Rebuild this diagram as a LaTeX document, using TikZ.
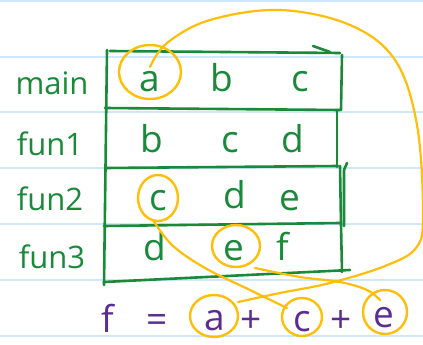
\documentclass[tikz,border=0pt]{standalone}
\usepackage{fontspec}
\setmainfont{Open Sans}
\definecolor{ink}{RGB}{26,137,58}
\definecolor{hl}{RGB}{255,190,10}
\definecolor{pur}{RGB}{92,45,145}
\definecolor{rule}{RGB}{205,232,250}
\tikzset{
  lbl/.style={anchor=base,text=ink,font=\fontsize{31}{31}\selectfont,inner sep=0pt},
  cell/.style={anchor=base,text=ink,font=\fontsize{37}{37}\selectfont,inner sep=0pt},
  frm/.style={anchor=base,text=pur,font=\fontsize{37}{37}\selectfont,inner sep=0pt},
  grid/.style={draw=ink,line width=2.6pt,line cap=round,line join=round},
  ycirc/.style={draw=hl,line width=2.4pt},
  ycurve/.style={draw=hl,line width=2.2pt,line cap=round},
  paper/.style={draw=rule,line width=2pt}
}
\begin{document}
\begin{tikzpicture}[x=1pt,y=-1pt]
\useasboundingbox (0,0) rectangle (423,345);
\fill[white] (0,0) rectangle (423,345);
% ruled paper
\foreach \yy in {1,57,112,168,224,280,336}
  \draw[paper] (0,\yy) -- (423,\yy);
% table
\draw[grid] (110,51) -- (340,53);
\draw[grid] (313,46) -- (330,52);
\draw[grid] (107,50) -- (104,285);
\draw[grid] (342,55) -- (341,110);
\draw[grid] (105,108) -- (340,110);
\draw[grid] (337,110) -- (337,167);
\draw[grid] (105,168) -- (338,166);
\draw[grid] (340,166) -- (341,224);
\draw[grid] (347,163) -- (344,170) -- (344,226);
\draw[grid] (104,226) -- (340,223);
\draw[grid] (341,224) -- (342,272);
\draw[grid] (104,282) -- (350,270);
% row labels
\node[lbl] (lmain) at (52,95) {main};
\node[lbl] (lf1) at (50,155) {fun1};
\node[lbl] (lf2) at (50,210) {fun2};
\node[lbl] (lf3) at (52,268) {fun3};
% cells
\node[cell] (m1) at (150,92) {a};
\node[cell] (m2) at (222,92) {b};
\node[cell] (m3) at (300,92) {c};
\node[cell] (f11) at (152,152) {b};
\node[cell] (f12) at (230,152) {c};
\node[cell] (f13) at (293,152) {d};
\node[cell] (f21) at (158,210) {c};
\node[cell] (f22) at (235,208) {d};
\node[cell] (f23) at (290,210) {e};
\node[cell] (f31) at (155,260) {d};
\node[cell] (f32) at (234,260) {e};
\node[cell] (f33) at (283,260) {f};
% formula
\node[frm] (ff) at (108,332) {f};
\node[frm] (feq) at (157,332) {=};
\node[frm] (fa) at (215,330) {a};
\node[frm] (fp1) at (251,332) {+};
\node[frm] (fc) at (302,331) {c};
\node[frm] (fp2) at (341,332) {+};
\node[frm] (fe) at (384,327) {e};
% highlight circles
\draw[ycirc] (150,72) ellipse [x radius=31pt,y radius=27pt];
\draw[ycirc] (158,198) ellipse [x radius=20pt,y radius=23pt];
\draw[ycirc] (236,246) ellipse [x radius=24pt,y radius=21pt];
\draw[ycirc] (214,316) ellipse [x radius=24pt,y radius=21pt];
\draw[ycirc] (302,317) ellipse [x radius=20pt,y radius=19pt];
\draw[ycirc] (385,312) ellipse [x radius=22pt,y radius=22pt];
% connectors
\coordinate (s1) at (150,67);
\coordinate (t1) at (238,302);
\coordinate (s2) at (153,220);
\coordinate (t2) at (287,308);
\coordinate (s3) at (255,268);
\coordinate (t3) at (380,300);
\draw[ycurve] plot[smooth,tension=0.6] coordinates {(s1) (167,43) (210,20) (280,10) (350,25) (395,60) (417,125) (423,215) (416,248) (385,266) (330,283) (280,293) (t1)};
\draw[ycurve] plot[smooth,tension=0.6] coordinates {(s2) (172,245) (205,268) (250,290) (t2)};
\draw[ycurve] plot[smooth,tension=0.6] coordinates {(s3) (300,277) (340,282) (367,290) (t3)};
\end{tikzpicture}
\end{document}
